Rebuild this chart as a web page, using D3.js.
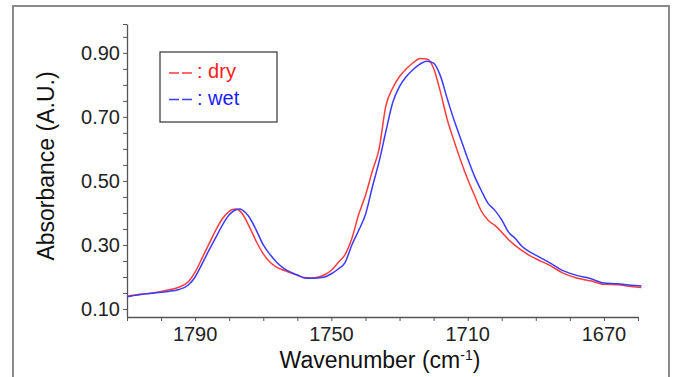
<!DOCTYPE html>
<html>
<head>
<meta charset="utf-8">
<script src="https://cdn.jsdelivr.net/npm/d3@7"></script>
<style>
  html, body { margin: 0; padding: 0; background: #fff; }
  svg { display: block; font-family: "Liberation Sans", Arial, sans-serif; }
</style>
</head>
<body>
<svg id="chart" width="673" height="377"></svg>
<script>
// ---- data ----
const wavenumbers = [1810, 1806, 1802, 1798, 1795, 1792, 1790, 1788, 1786, 1784, 1782, 1780, 1779, 1778, 1777, 1776, 1774, 1772, 1770, 1768, 1766, 1764, 1762, 1760, 1758, 1756, 1754, 1752, 1750, 1748, 1746, 1744, 1742, 1740, 1738, 1736, 1734, 1732, 1730, 1728, 1726, 1724, 1722, 1720, 1718, 1716, 1714, 1712, 1710, 1708, 1706, 1704, 1702, 1700, 1698, 1696, 1694, 1692, 1690, 1686, 1682, 1678, 1674, 1670, 1666, 1662, 1659];
const dryValues = [0.140, 0.146, 0.151, 0.159, 0.167, 0.185, 0.215, 0.258, 0.302, 0.345, 0.382, 0.405, 0.411, 0.412, 0.407, 0.395, 0.355, 0.310, 0.272, 0.246, 0.230, 0.221, 0.213, 0.206, 0.198, 0.197, 0.199, 0.207, 0.221, 0.245, 0.270, 0.320, 0.395, 0.455, 0.530, 0.600, 0.735, 0.790, 0.826, 0.850, 0.869, 0.882, 0.881, 0.852, 0.778, 0.692, 0.625, 0.562, 0.505, 0.455, 0.406, 0.377, 0.361, 0.340, 0.316, 0.298, 0.282, 0.268, 0.257, 0.237, 0.212, 0.197, 0.188, 0.177, 0.176, 0.170, 0.167];
const wetValues = [0.138, 0.145, 0.150, 0.155, 0.160, 0.175, 0.200, 0.240, 0.282, 0.322, 0.362, 0.394, 0.404, 0.410, 0.412, 0.408, 0.385, 0.345, 0.300, 0.270, 0.245, 0.227, 0.215, 0.206, 0.197, 0.196, 0.197, 0.200, 0.210, 0.225, 0.245, 0.300, 0.345, 0.395, 0.480, 0.560, 0.655, 0.745, 0.795, 0.826, 0.848, 0.865, 0.874, 0.868, 0.828, 0.757, 0.690, 0.630, 0.570, 0.515, 0.470, 0.430, 0.408, 0.378, 0.340, 0.320, 0.295, 0.280, 0.268, 0.245, 0.220, 0.205, 0.195, 0.181, 0.179, 0.174, 0.172];
const xMajorTicks = [1790, 1750, 1710, 1670];
const xMinorTicks = [1810, 1800, 1790, 1780, 1770, 1760, 1750, 1740, 1730, 1720, 1710, 1700, 1690, 1680, 1670, 1660];
const yMajorTicks = [0.10, 0.30, 0.50, 0.70, 0.90];
const yMinorTicks = [0.10, 0.15, 0.20, 0.25, 0.30, 0.35, 0.40, 0.45, 0.50, 0.55, 0.60, 0.65, 0.70, 0.75, 0.80, 0.85, 0.90, 0.95, 0.99];
const seriesNames = ["dry", "wet"];
const seriesColors = ["#ff3b3b", "#3b3bff"];

// ---- layout ----
const svg = d3.select("#chart");
const plotLeft = 127, plotRight = 638, plotTop = 24, plotBottom = 317;

// outer frame
svg.append("rect").attr("x", 13).attr("y", 6).attr("width", 656).attr("height", 400)
  .attr("fill", "none").attr("stroke", "#8a8a8a").attr("stroke-width", 2);

const x = d3.scaleLinear().domain([1810, 1660]).range([plotLeft, plotRight]);
const y = d3.scaleLinear().domain([0.075, 0.99]).range([plotBottom, plotTop]);

const axisColor = "#555";
const textColor = "#222";

// axes
const gx = svg.append("g").attr("transform", `translate(0,${plotBottom})`)
  .call(d3.axisBottom(x).tickValues(xMinorTicks).tickSize(4).tickSizeOuter(0).tickFormat(""));
const gy = svg.append("g").attr("transform", `translate(${plotLeft},0)`)
  .call(d3.axisLeft(y).tickValues(yMinorTicks).tickSize(4).tickSizeOuter(0).tickFormat(""));
[gx, gy].forEach(g => {
  g.select(".domain").attr("stroke", axisColor).attr("stroke-width", 1.3);
  g.selectAll(".tick line").attr("stroke", axisColor).attr("stroke-width", 1);
});

// tick labels
svg.append("g").selectAll("text").data(xMajorTicks).join("text")
  .attr("x", d => x(d)).attr("y", 341)
  .attr("text-anchor", "middle").attr("font-size", 20).attr("fill", textColor)
  .text(d => d);
svg.append("g").selectAll("text").data(yMajorTicks).join("text")
  .attr("x", 120).attr("y", d => y(d)).attr("dy", "0.36em")
  .attr("text-anchor", "end").attr("font-size", 20).attr("fill", textColor)
  .text(d => d.toFixed(2));

// axis titles
const xt = svg.append("text").attr("x", 380).attr("y", 368).attr("text-anchor", "middle")
  .attr("font-size", 23).attr("fill", "#111");
xt.append("tspan").text("Wavenumber (cm");
xt.append("tspan").attr("font-size", 14).attr("dy", -8).text("-1");
xt.append("tspan").attr("dy", 8).text(")");
svg.append("text").attr("transform", "translate(54,166) rotate(-90)")
  .attr("text-anchor", "middle").attr("font-size", 23).attr("fill", "#111")
  .text("Absorbance (A.U.)");

// lines
const series = [dryValues, wetValues];
const line = d3.line().x(d => x(d[0])).y(d => y(d[1])).curve(d3.curveMonotoneX);
series.forEach((vals, i) => {
  svg.append("path")
    .datum(wavenumbers.map((w, j) => [w, vals[j]]))
    .attr("fill", "none").attr("stroke", seriesColors[i]).attr("stroke-width", 1.5)
    .attr("d", line);
});

// legend
svg.append("rect").attr("x", 160).attr("y", 52).attr("width", 117).attr("height", 70)
  .attr("fill", "none").attr("stroke", "#333").attr("stroke-width", 1.2);
seriesNames.forEach((name, i) => {
  const cy = 73 + i * 26.5;
  svg.append("line").attr("x1", 169).attr("x2", 192).attr("y1", cy).attr("y2", cy)
    .attr("stroke", seriesColors[i]).attr("stroke-width", 1.5).attr("stroke-dasharray", "10,3");
  svg.append("text").attr("x", 197).attr("y", cy + 5).attr("font-size", 20)
    .attr("fill", i === 0 ? "#ff1a1a" : "#1a1aff").text(": " + name);
});
</script>
</body>
</html>
